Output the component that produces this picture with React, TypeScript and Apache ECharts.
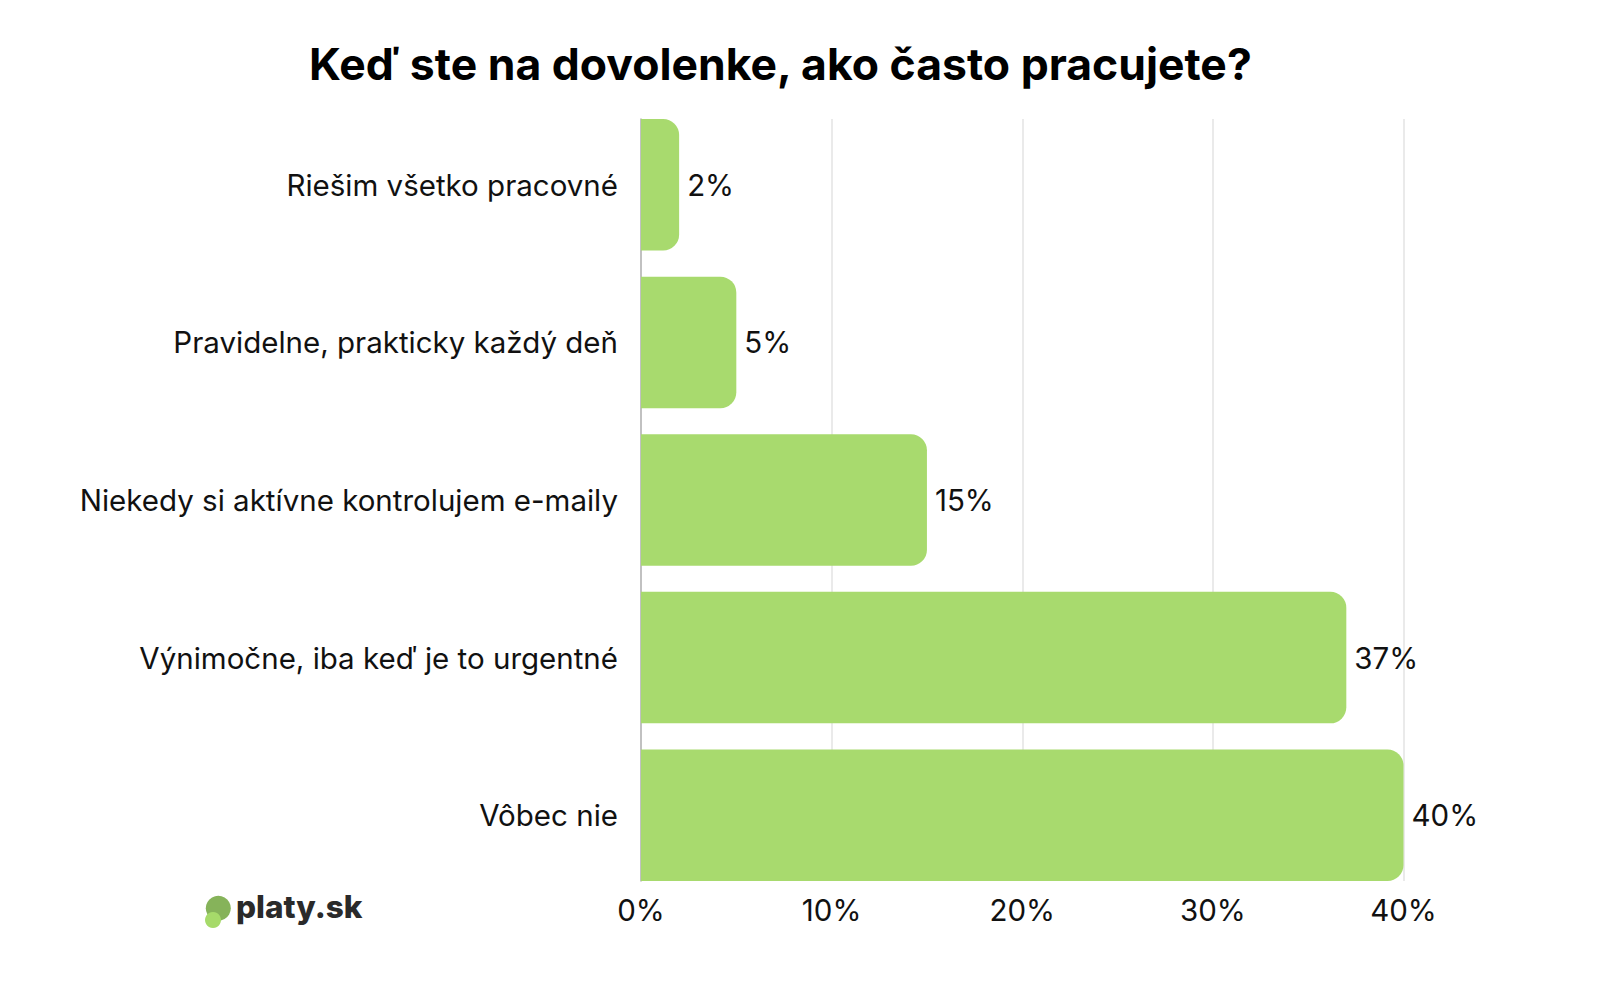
import React, { useEffect, useRef } from "react";
import * as echarts from "echarts";

const categories = [
  "Riešim všetko pracovné",
  "Pravidelne, prakticky každý deň",
  "Niekedy si aktívne kontrolujem e-maily",
  "Výnimočne, iba keď je to urgentné",
  "Vôbec nie",
];
const values = [2, 5, 15, 37, 40];
const titleText = "Keď ste na dovolenke, ako často pracujete?";
const logoText = "platy.sk";

const FONT = "Inter, 'Noto Sans', sans-serif";

export default function App() {
  const ref = useRef<HTMLDivElement>(null);
  useEffect(() => {
    document.body.style.margin = "0";
    const chart = echarts.init(ref.current!, null, { renderer: "svg" });
    chart.setOption({
      animation: false,
      backgroundColor: "#ffffff",
      textStyle: { fontFamily: FONT },
      grid: [
        { left: 641, right: 209.5, top: 106, bottom: 94, containLabel: false },
        { left: 641, right: 209.5, top: 119, bottom: 107, containLabel: false },
      ],
      xAxis: [
        {
          gridIndex: 0,
          type: "value",
          min: 0,
          max: 40,
          interval: 10,
          show: false,
        },
        {
          gridIndex: 1,
          type: "value",
          min: 0,
          max: 40,
          interval: 10,
          axisLine: { show: false },
          axisTick: { show: false },
          splitLine: { show: true, lineStyle: { color: "#e3e3e3", width: 1.5 } },
          axisLabel: {
            formatter: "{value}%",
            fontSize: 29.5,
            color: "#111111",
            fontFamily: FONT,
            margin: 14,
          },
        },
      ],
      yAxis: [
        {
          gridIndex: 0,
          type: "category",
          data: categories,
          inverse: true,
          axisLine: { show: false },
          axisTick: { show: false },
          splitLine: { show: false },
          axisLabel: {
            fontSize: 29.5,
            color: "#111111",
            fontFamily: FONT,
            margin: 23,
          },
        },
        {
          gridIndex: 1,
          type: "value",
          min: 0,
          max: 1,
          axisLine: { show: true, lineStyle: { color: "#b3b3b3", width: 1.5 } },
          axisTick: { show: false },
          axisLabel: { show: false },
          splitLine: { show: false },
        },
      ],
      series: [
        {
          type: "bar",
          xAxisIndex: 0,
          yAxisIndex: 0,
          data: values,
          barWidth: 131.5,
          itemStyle: { color: "#a8da6e", borderRadius: [0, 16, 16, 0] },
          label: {
            show: true,
            position: "right",
            distance: 8,
            formatter: "{c}%",
            fontSize: 29.5,
            color: "#111111",
            fontFamily: FONT,
          },
          z: 3,
        },
      ],
      graphic: [
        {
          type: "text",
          left: 309,
          top: 41,
          style: {
            text: titleText,
            fontSize: 44.5,
            fontWeight: "bold",
            fill: "#000000",
            fontFamily: FONT,
          },
        },
        {
          type: "circle",
          shape: { cx: 218.3, cy: 908.3, r: 12.5 },
          style: { fill: "#86b35a" },
        },
        {
          type: "circle",
          shape: { cx: 213, cy: 920, r: 8 },
          style: { fill: "#a6da6a" },
        },
        {
          type: "text",
          left: 236,
          top: 890,
          style: {
            text: logoText,
            fontSize: 31.5,
            fontWeight: 800,
            fill: "#2a2a2a",
            fontFamily: FONT,
          },
        },
      ],
    });
    return () => chart.dispose();
  }, []);
  return <div ref={ref} style={{ width: 1613, height: 988 }} />;
}
